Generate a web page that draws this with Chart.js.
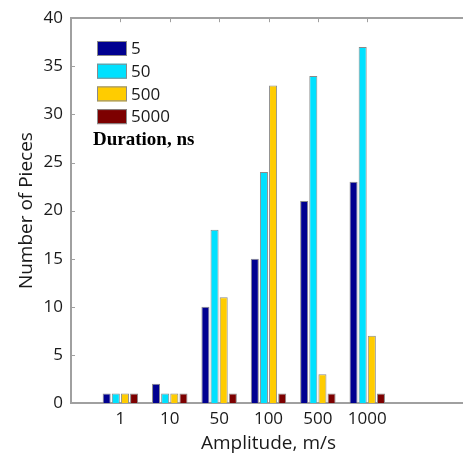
<!DOCTYPE html>
<html>
<head>
<meta charset="utf-8">
<script src="https://cdn.jsdelivr.net/npm/chart.js@4.4.1/dist/chart.umd.min.js"></script>
<style>
  html, body { margin: 0; padding: 0; background: #fff; overflow: hidden; }
  #wrap { width: 472px; height: 456px; position: relative; }
</style>
</head>
<body>
<div id="wrap"><canvas id="piecesChart"></canvas></div>
<script>
// amplitudes on the x axis, one empty slot before and two after (as in the plot)
const amplitudes = ['1', '10', '50', '100', '500', '1000'];
const durations = ['5', '50', '500', '5000'];
const yTicks = [0, 5, 10, 15, 20, 25, 30, 35, 40];

const pieces5 = [1, 2, 10, 15, 21, 23];
const pieces50 = [1, 1, 18, 24, 34, 37];
const pieces500 = [1, 1, 11, 33, 3, 7];
const pieces5000 = [1, 1, 1, 1, 1, 1];

const colors = ['#000090', '#00E1FF', '#FFCC00', '#7D0000'];
const axisGrey = '#a0a0a0';
const textColor = '#1a1a1a';

const labels = [''].concat(amplitudes, ['', '']);
function pad(arr) { return [null].concat(arr, [null, null]); }

const seriesValues = [pieces5, pieces50, pieces500, pieces5000];

// inward tick marks on left axis, downward ticks on the top border
const tickMarks = {
    id: 'tickMarks',
    afterDraw(chart) {
        const ctx = chart.ctx;
        const area = chart.chartArea;
        const x = chart.scales.x, y = chart.scales.y;
        ctx.save();
        ctx.strokeStyle = axisGrey;
        ctx.lineWidth = 1;
        yTicks.forEach(function (v) {
            const py = Math.round(y.getPixelForValue(v)) + 0.5;
            ctx.beginPath();
            ctx.moveTo(area.left, py);
            ctx.lineTo(area.left + 4, py);
            ctx.stroke();
        });
        amplitudes.forEach(function (a, i) {
            const px = Math.round(x.getPixelForValue(i + 1)) + 0.5;
            ctx.beginPath();
            ctx.moveTo(px, area.top);
            ctx.lineTo(px, area.top + 4);
            ctx.stroke();
        });
        ctx.restore();
    }
};

// legend drawn inside the plot, with the caption underneath
const insideLegend = {
    id: 'insideLegend',
    afterDraw(chart) {
        const ctx = chart.ctx;
        ctx.save();
        chart.data.datasets.forEach(function (ds, i) {
            const top = 41 + i * 22.7;
            ctx.fillStyle = ds.backgroundColor;
            ctx.fillRect(97, top, 30, 15);
            ctx.strokeStyle = '#8a8a8a';
            ctx.lineWidth = 1;
            ctx.strokeRect(97.5, top + 0.5, 29, 14);
            ctx.fillStyle = textColor;
            ctx.font = '17px "Open Sans"';
            ctx.textBaseline = 'middle';
            ctx.fillText(ds.label, 131, top + 8.5);
        });
        ctx.font = 'bold 19px "Liberation Serif"';
        ctx.fillStyle = '#000';
        ctx.textBaseline = 'middle';
        ctx.fillText('Duration, ns', 93, 140);
        ctx.restore();
    }
};

const ctx = document.getElementById('piecesChart').getContext('2d');

new Chart(ctx, {
    type: 'bar',
    data: {
        labels: labels,
        datasets: durations.map(function (d, i) {
            return {
                label: d,
                data: pad(seriesValues[i]),
                backgroundColor: colors[i],
                borderColor: '#8a8a8a',
                borderWidth: 1,
                categoryPercentage: 0.74,
                barPercentage: 0.88,
                xAxisID: 'x'
            };
        })
    },
    options: {
        responsive: true,
        maintainAspectRatio: false,
        animation: false,
        layout: { padding: 0 },
        plugins: {
            legend: { display: false },
            tooltip: { enabled: false }
        },
        scales: {
            x: {
                type: 'category',
                position: 'bottom',
                offset: false,
                grid: { display: false, drawTicks: false },
                border: { display: true, color: axisGrey, width: 2 },
                ticks: {
                    color: textColor,
                    font: { family: 'Open Sans', size: 17 },
                    padding: 6,
                    autoSkip: false,
                    maxRotation: 0
                },
                title: {
                    display: true,
                    text: 'Amplitude, m/s',
                    color: textColor,
                    font: { family: 'Open Sans', size: 19 },
                    padding: { top: 0, bottom: 1 }
                },
                afterFit: function (scale) { scale.height = 53; }
            },
            xTop: {
                type: 'category',
                position: 'top',
                offset: false,
                grid: { display: false, drawTicks: false },
                border: { display: true, color: axisGrey, width: 2 },
                ticks: { display: false },
                afterFit: function (scale) { scale.height = 16; }
            },
            y: {
                min: 0,
                max: 40,
                grid: { display: false, drawTicks: false },
                border: { display: true, color: axisGrey, width: 2 },
                ticks: {
                    stepSize: 5,
                    color: textColor,
                    font: { family: 'Open Sans', size: 17 },
                    padding: 8
                },
                title: {
                    display: true,
                    text: 'Number of Pieces',
                    color: textColor,
                    font: { family: 'Open Sans', size: 19 },
                    padding: { top: 15, bottom: 0 }
                },
                afterFit: function (scale) { scale.width = 71; }
            }
        }
    },
    plugins: [tickMarks, insideLegend]
});
</script>
</body>
</html>
